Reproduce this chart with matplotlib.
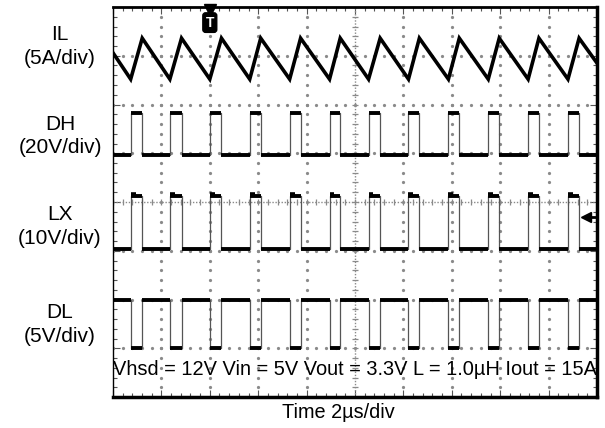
import numpy as np
import matplotlib.pyplot as plt

plt.rcParams['font.family'] = ['Liberation Sans', 'DejaVu Sans']

# switching edges (in divisions, 2us/div)
rise_t = [0.365, 1.175, 2.0, 2.825, 3.65, 4.474, 5.28, 6.105, 6.93, 7.753, 8.577, 9.40]
fall_t = [0.604, 1.416, 2.241, 3.052, 3.876, 4.695, 5.52, 6.33, 7.155, 7.98, 8.80, 9.63]

# trace levels (divisions from bottom of screen)
il_start, il_end = 7.06, 6.85
il_valley, il_peak = 6.52, 7.36
dh_low, dh_high = 4.96, 5.83
lx_low, lx_high, lx_ring = 3.04, 4.12, 4.17
dl_low, dl_high = 1.0, 1.99
trig_level = 3.69

ch_names = ['IL', 'DH', 'LX', 'DL']
ch_scales = ['(5A/div)', '(20V/div)', '(10V/div)', '(5V/div)']
ch_label_y = [35, 125, 215, 313]  # pixel rows of the channel names

cond_text = 'Vhsd = 12V Vin = 5V Vout = 3.3V L = 1.0µH Iout = 15A'
time_text = 'Time 2µs/div'

W, H = 605, 428
fig = plt.figure(figsize=(W / 100, H / 100), dpi=100)
ax = fig.add_axes([113 / W, 1 - 397 / H, 484 / W, 390 / H])
ax.set_xlim(0, 10)
ax.set_ylim(0, 8)

# graticule
gcol = '#8a8a8a'
dots = np.arange(0, 8.01, 0.2)
for gx in range(1, 10):
    if gx != 5:
        ax.plot([gx] * len(dots), dots, ls='none', marker='o', ms=1.3, color=gcol)
dots = np.arange(0, 10.01, 0.2)
for gy in range(1, 8):
    if gy != 4:
        ax.plot(dots, [gy] * len(dots), ls='none', marker='o', ms=1.3, color=gcol)
# centre cross with fine ticks
ax.plot([0, 10], [4, 4], ls=(0, (1, 1.2)), lw=1, color=gcol)
ax.plot([5, 5], [0, 8], ls=(0, (1, 1.2)), lw=1, color=gcol)
ax.vlines(np.arange(0, 10.01, 0.2), 4 - 0.07, 4 + 0.07, color=gcol, lw=0.9)
ax.hlines(np.arange(0, 8.01, 0.2), 5 - 0.07, 5 + 0.07, color=gcol, lw=0.9)

# border ticks
ax.set_xticks(np.arange(0, 10.01, 1))
ax.set_yticks(np.arange(0, 8.01, 1))
ax.set_xticks(np.arange(0, 10.01, 0.2), minor=True)
ax.set_yticks(np.arange(0, 8.01, 0.2), minor=True)
ax.tick_params(which='both', direction='in', top=True, right=True,
               labelbottom=False, labelleft=False, color='#555555', width=0.8)
ax.tick_params(which='major', length=5)
ax.tick_params(which='minor', length=3)
for side, lw in [('top', 2), ('right', 2.5), ('bottom', 2.5), ('left', 1)]:
    ax.spines[side].set_linewidth(lw)


def square(low, high, inverted=False):
    a, b = (high, low) if inverted else (low, high)
    xs, ys = [0], [a]
    for r, f in zip(rise_t, fall_t):
        xs += [r, r, f, f]
        ys += [a, b, b, a]
    xs.append(10)
    ys.append(a)
    # thin edges
    ax.plot(xs, ys, color='#555555', lw=0.9)
    # thick flats
    starts = [0] + fall_t
    ends = rise_t + [10]
    ax.hlines([a] * len(starts), starts, ends, color='black', lw=2.8)
    ax.hlines([b] * len(rise_t), rise_t, fall_t, color='black', lw=2.8)


# IL triangle
il_x = [0]
il_y = [il_start]
for r, f in zip(rise_t, fall_t):
    il_x += [r, f]
    il_y += [il_valley, il_peak]
il_x.append(10)
il_y.append(il_end)
ax.plot(il_x, il_y, color='black', lw=2.6, solid_joinstyle='miter')

square(dh_low, dh_high)
square(lx_low, lx_high)
ax.hlines([lx_ring] * len(rise_t), rise_t, [r + 0.1 for r in rise_t], color='black', lw=2.6)
square(dl_low, dl_high, inverted=True)

# trigger position / level markers
ax.plot([2.0], [7.93], marker='v', ms=8, color='black', clip_on=False)
ax.text(2.0, 7.68, 'T', color='white', fontsize=10, fontweight='bold',
        ha='center', va='center',
        bbox=dict(boxstyle='round,pad=0.2', fc='black', ec='black'))
ax.plot([9.8, 9.97], [trig_level, trig_level], color='black', lw=2, zorder=5)
ax.plot([9.77], [trig_level], marker='<', ms=7, color='black', zorder=5)

ax.text(0.0, 0.57, cond_text, fontsize=14.4, ha='left', va='center', color='black')

for name, scale, py in zip(ch_names, ch_scales, ch_label_y):
    fig.text(60 / W, 1 - py / H, name, fontsize=15, ha='center', va='center')
    fig.text(60 / W, 1 - (py + 23) / H, scale, fontsize=15, ha='center', va='center')

fig.text(338 / W, 1 - 412 / H, time_text, fontsize=14.3, ha='center', va='center')

fig.savefig('out.png', dpi=100)
